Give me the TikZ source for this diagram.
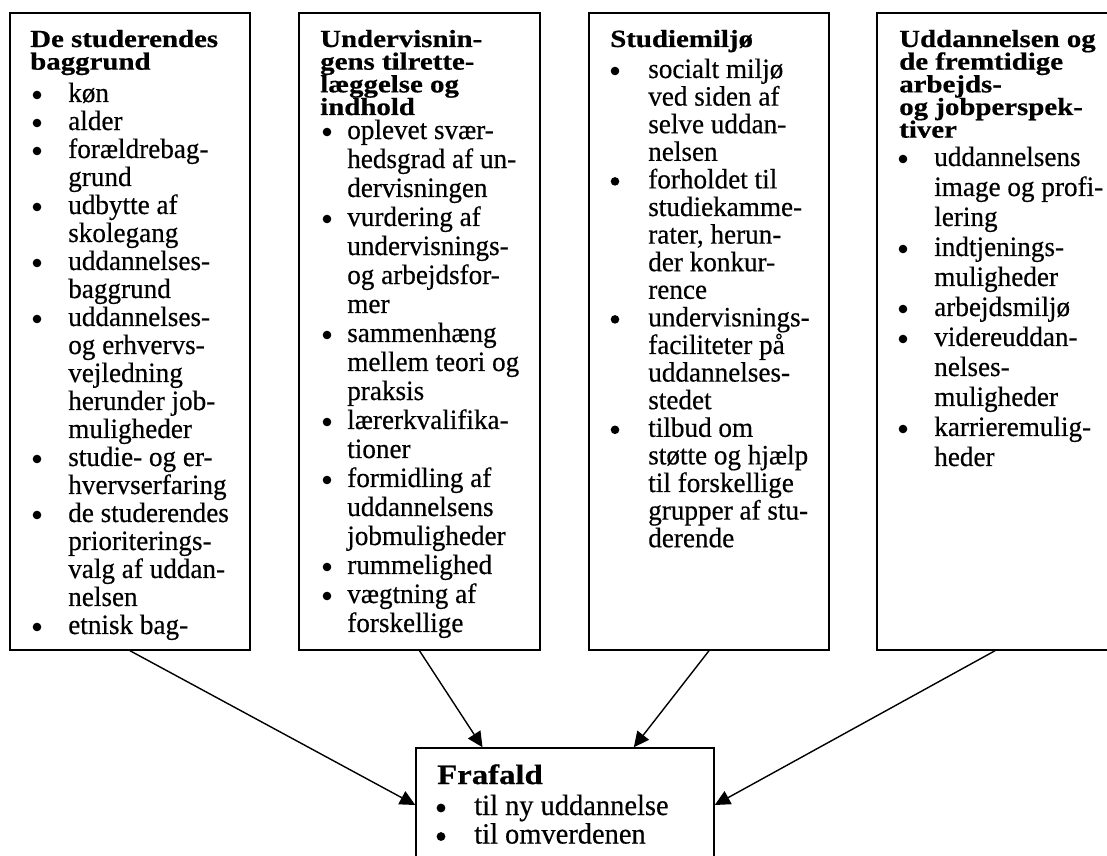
\documentclass[tikz,border=0pt]{standalone}
\usepackage{fontspec}
\setmainfont{Liberation Serif}[FakeStretch=0.97, FakeBold=0.4]
\newfontfamily\tfont{Liberation Serif}[FakeStretch=1.17, FakeBold=0.6]
\usetikzlibrary{arrows.meta}
\newcommand\tl[1]{\vtop{\lineskiplimit=-\maxdimen\lineskip=0pt\halign{##\hfil\cr#1\crcr}}}
\begin{document}
\begin{tikzpicture}[x=0.75pt,y=-0.75pt,
  stagebox/.style={draw, line width=1.1pt, inner sep=0pt, minimum width=#1, minimum height=477.75pt},
  ttl/.style={anchor=base west, inner sep=0pt, font=\tfont\bfseries\fontsize{18.5}{17}\selectfont},
  bdy/.style={anchor=base west, inner sep=0pt, font=\fontsize{21}{#1}\selectfont},
  dot/.style={fill=black},
  arr/.style={line width=1.05pt, -{Triangle[length=11.5pt,width=11pt]}}]
\clip (0,0) rectangle (1107,856);
\fill[white] (0,0) rectangle (1107,856);
% boxes
\node[stagebox=180pt] (b1) at (130,331.5) {};
\node[stagebox=180.75pt] (b2) at (419.5,331.5) {};
\node[stagebox=180pt] (b3) at (709,331.5) {};
\node[stagebox=177pt] (b4) at (995,331.5) {};
\node[draw, line width=1.1pt, inner sep=0pt, minimum width=223.5pt, minimum height=85.5pt] (fr) at (565,805) {};
% box 1
\node[ttl] (t1) at (30,47) {\tl{De studerendes\cr baggrund}};
\node[bdy=21pt] (l1) at (68,102) {\tl{%
køn\cr
alder\cr
forældrebag-\cr
grund\cr
udbytte af\cr
skolegang\cr
uddannelses-\cr
baggrund\cr
uddannelses-\cr
og erhvervs-\cr
vejledning\cr
herunder job-\cr
muligheder\cr
studie- og er-\cr
hvervserfaring\cr
de studerendes\cr
prioriterings-\cr
valg af uddan-\cr
nelsen\cr
etnisk bag-}};
\foreach \k in {0,1,2,4,6,8,13,15,19}
  \fill[dot] (37,{95+28*\k}) circle[radius=4.3];
% box 2
\node[ttl] (t2) at (320,47) {\tl{Undervisnin-\cr gens tilrette-\cr læggelse og\cr indhold}};
\node[bdy=21.75pt] (l2) at (347,139) {\tl{%
oplevet svær-\cr
hedsgrad af un-\cr
dervisningen\cr
vurdering af\cr
undervisnings-\cr
og arbejdsfor-\cr
mer\cr
sammenhæng\cr
mellem teori og\cr
praksis\cr
lærerkvalifika-\cr
tioner\cr
formidling af\cr
uddannelsens\cr
jobmuligheder\cr
rummelighed\cr
vægtning af\cr
forskellige}};
\foreach \k in {0,3,7,10,12,15,16}
  \fill[dot] (327,{132+29*\k}) circle[radius=4.3];
% box 3
\node[ttl] (t3) at (610,47) {\tl{Studiemiljø}};
\node[bdy=20.7pt] (l3) at (648,78) {\tl{%
socialt miljø\cr
ved siden af\cr
selve uddan-\cr
nelsen\cr
forholdet til\cr
studiekamme-\cr
rater, herun-\cr
der konkur-\cr
rence\cr
undervisnings-\cr
faciliteter på\cr
uddannelses-\cr
stedet\cr
tilbud om\cr
støtte og hjælp\cr
til forskellige\cr
grupper af stu-\cr
derende}};
\foreach \k in {0,4,9,13}
  \fill[dot] (615,{71+27.6*\k}) circle[radius=4.3];
% box 4
\node[ttl] (t4) at (899,47) {\tl{Uddannelsen og\cr de fremtidige\cr arbejds-\cr og jobperspek-\cr tiver}};
\node[bdy=22.5pt] (l4) at (934,166) {\tl{%
uddannelsens\cr
image og profi-\cr
lering\cr
indtjenings-\cr
muligheder\cr
arbejdsmiljø\cr
videreuddan-\cr
nelses-\cr
muligheder\cr
karrieremulig-\cr
heder}};
\foreach \k in {0,3,5,6,9}
  \fill[dot] (903,{159+30*\k}) circle[radius=4.3];
% Frafald
\node[anchor=base west, inner sep=0pt, font=\tfont\bfseries\fontsize{21}{21}\selectfont] (tf) at (437,784) {Frafald};
\node[bdy=21.4pt, font=\fontsize{22}{21.4}\selectfont] (lf) at (474,815) {\tl{%
til ny uddannelse\cr
til omverdenen}};
\foreach \k in {0,1}
  \fill[dot] (441,{808+28.53*\k}) circle[radius=4.4];
% arrows
\draw[arr] (b1.south) -- (fr.west);
\draw[arr] (b2.south) -- (fr.145.2);
\draw[arr] (b3.south) -- (fr.40.8);
\draw[arr] (b4.south) -- (fr.east);
\end{tikzpicture}
\end{document}
